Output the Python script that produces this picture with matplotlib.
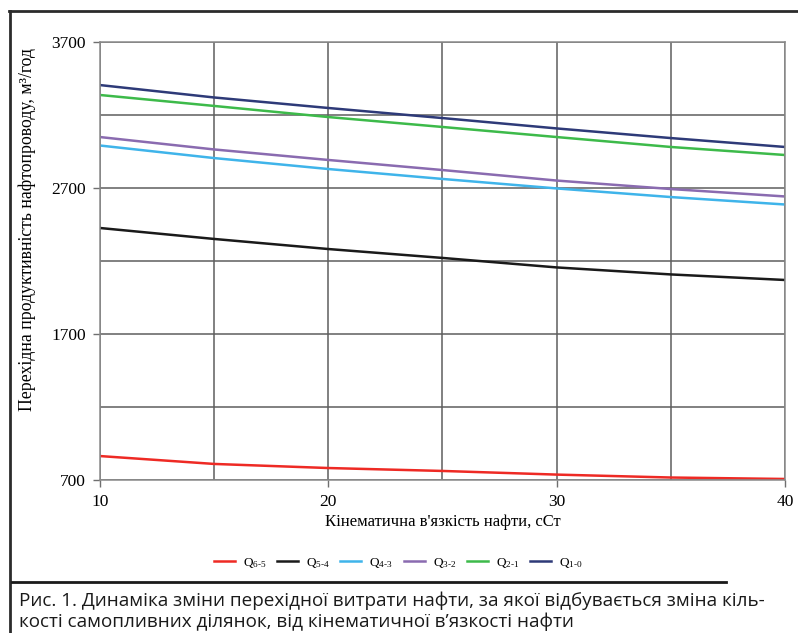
import matplotlib
matplotlib.use('Agg')
import matplotlib.pyplot as plt
from matplotlib.lines import Line2D

# Дані
viscosity = [10, 15, 20, 25, 30, 35, 40]
q65 = [864, 810, 782, 762, 737, 717, 707]
q54 = [2426, 2351, 2282, 2221, 2156, 2108, 2070]
q43 = [2991, 2905, 2830, 2762, 2697, 2638, 2587]
q32 = [3049, 2964, 2892, 2823, 2751, 2693, 2642]
q21 = [3337, 3262, 3186, 3118, 3049, 2981, 2926]
q10 = [3405, 3320, 3248, 3179, 3108, 3042, 2981]

series = [q65, q54, q43, q32, q21, q10]
labels = ['6-5', '5-4', '4-3', '3-2', '2-1', '1-0']
colors = ['#ee2a24', '#1a1a1a', '#3fb4ea', '#8a6bb0', '#3dba4a', '#2e3a78']

yticks = [700, 1700, 2700, 3700]
xticks = [10, 20, 30, 40]

plt.rcParams['font.family'] = ['Liberation Serif', 'DejaVu Serif']
plt.rcParams['mathtext.fontset'] = 'custom'
plt.rcParams['mathtext.rm'] = 'Liberation Serif'
plt.rcParams['mathtext.it'] = 'Liberation Serif'

W, H = 798, 633
fig = plt.figure(figsize=(W / 100, H / 100), dpi=100)
ax = fig.add_axes([100 / W, 1 - 480 / H, 685 / W, 438 / H])

for vals, c in zip(series, colors):
    ax.plot(viscosity, vals, color=c, lw=1.8, solid_capstyle='butt')

ax.set_xlim(10, 40)
ax.set_ylim(700, 3700)
ax.set_xticks(xticks)
ax.set_yticks(yticks)
ax.set_xticks(range(10, 41, 5), minor=True)
ax.set_yticks(range(700, 3701, 500), minor=True)
ax.grid(True, which='both', color='#5e5e5e', lw=1.1)
ax.tick_params(which='minor', length=0)
ax.tick_params(which='major', length=5, width=1, color='#6f6f6f',
               labelsize=12.5, pad=5)
for s in ax.spines.values():
    s.set_color('#8a8a8a')
    s.set_linewidth(1.1)

ax.set_xlabel("Кінематична в'язкість нафти, сСт", fontsize=12, labelpad=3)
ax.set_ylabel('Перехідна продуктивність нафтопроводу, м³/год', fontsize=12.8)
ax.yaxis.set_label_coords(-0.094, 0.571)

handles = [Line2D([], [], color=c, lw=1.8) for c in colors]
leg_labels = ['$\\mathrm{Q}_{\\text{' + l + '}}$' for l in labels]
fig.legend(handles, leg_labels, loc='center', bbox_to_anchor=(398 / W, 1 - 563 / H),
           ncol=6, frameon=False, fontsize=9.5, handlelength=1.6,
           handletextpad=0.6, columnspacing=0.8)

# рамка
fig.add_artist(Line2D([9.5 / W, 9.5 / W], [0, 1 - 11 / H], color='#2b2b2b', lw=2,
                      transform=fig.transFigure))
fig.add_artist(Line2D([9 / W, 1], [1 - 11 / H, 1 - 11 / H], color='#2b2b2b', lw=2,
                      transform=fig.transFigure))
fig.add_artist(Line2D([12 / W, 726 / W], [1 - 582 / H, 1 - 582 / H], color='#1a1a1a',
                      lw=2, transform=fig.transFigure))

cap = ('Рис. 1. Динаміка зміни перехідної витрати нафти, за якої відбувається зміна кіль-\n'
       'кості самопливних ділянок, від кінематичної в’язкості нафти')
fig.text(19 / W, 1 - 592 / H, cap, ha='left', va='top', fontsize=13.6,
         family=['Open Sans', 'DejaVu Sans'], color='#1a1a1a', linespacing=1.15)

fig.savefig('out.png', dpi=100)
